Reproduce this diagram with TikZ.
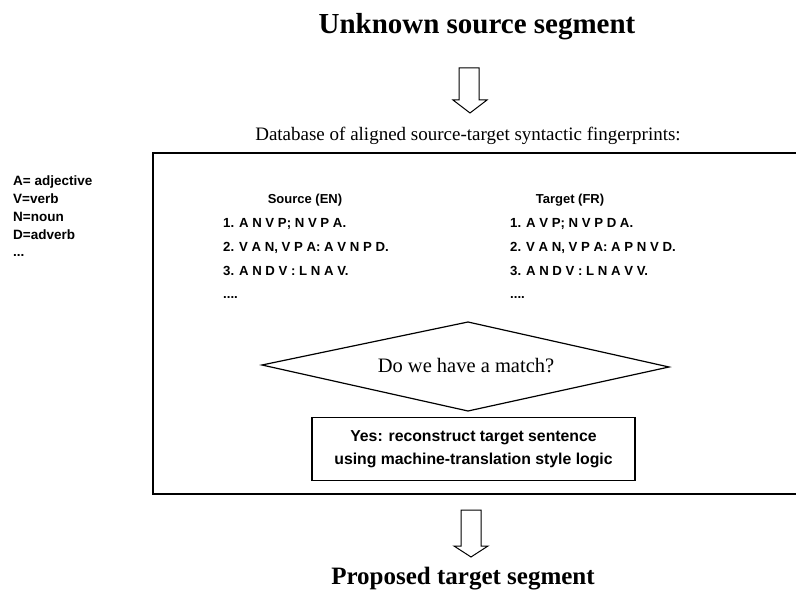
\documentclass[tikz,border=0pt]{standalone}
\usepackage{fontspec}
\setmainfont{Liberation Serif}
\setsansfont{Liberation Sans}
\begin{document}
\begin{tikzpicture}[x=1pt,y=-1pt,
  title/.style={font=\rmfamily\bfseries\fontsize{29}{32}\selectfont, inner sep=0pt},
  title2/.style={font=\rmfamily\bfseries\fontsize{25}{28}\selectfont, inner sep=0pt},
  dbtext/.style={font=\rmfamily\fontsize{19}{21}\selectfont, inner sep=0pt},
  legend/.style={font=\sffamily\bfseries\fontsize{13.5}{15}\selectfont, anchor=base west, inner sep=0pt},
  head/.style={font=\sffamily\bfseries\fontsize{13}{15}\selectfont, inner sep=0pt},
  item/.style={font=\sffamily\bfseries\fontsize{13.2}{16}\selectfont, anchor=base west, inner sep=0pt},
  blockarrow/.style={draw=black, line width=1pt, fill=white, line join=miter},
  frame/.style={draw=black, line width=1.6pt},
  yesbox/.style={draw=black, line width=1.2pt, minimum width=323pt, minimum height=63pt, align=center,
     font=\sffamily\bfseries\fontsize{15.8}{23}\selectfont, inner sep=0pt},
  question/.style={font=\rmfamily\fontsize{20.5}{22}\selectfont, inner sep=0pt}
]
\useasboundingbox (0,0) rectangle (796,594);

% titles
\node[title, anchor=base] (unknown) at (477,34) {Unknown source segment};
\node[title2, anchor=base] (proposed) at (463,584) {Proposed target segment};

% block arrows
\draw[blockarrow] (459,68) -- (479,68) -- (479,100) -- (487,100) -- (470,113) -- (453,100) -- (459,100) -- cycle;
\draw[blockarrow] (461,510) -- (481,510) -- (481,546) -- (488,546) -- (471,557) -- (454,546) -- (461,546) -- cycle;

% database caption
\node[dbtext, anchor=base] (db) at (468,140) {Database of aligned source-target syntactic fingerprints:};

% main frame (open on the right)
\draw[frame] (796,153) -- (153,153) -- (153,494) -- (796,494);

% legend
\node[legend] (la) at (13,185) {A= adjective};
\node[legend] (lv) at (13,203) {V=verb};
\node[legend] (ln) at (13,221) {N=noun};
\node[legend] (ld) at (13,239) {D=adverb};
\node[legend] (le) at (13,256) {...};

% source column
\node[head] (src) at (305,200) {Source (EN)};
\node[item] (s1) at (223,227) {1. A N V P; N V P A.};
\node[item] (s2) at (223,251) {2. V A N, V P A: A V N P D.};
\node[item] (s3) at (223,275) {3. A N D V : L N A V.};
\node[item] (s4) at (223,298) {....};

% target column
\node[head] (tgt) at (570,200) {Target (FR)};
\node[item] (t1) at (510,227) {1. A V P; N V P D A.};
\node[item] (t2) at (510,251) {2. V A N, V P A: A P N V D.};
\node[item] (t3) at (510,275) {3. A N D V : L N A V V.};
\node[item] (t4) at (510,298) {....};

% decision diamond
\draw[line width=1.2pt] (262,365) -- (468,322) -- (669,367) -- (468,411) -- cycle;
\node[question] (match) at (466,366) {Do we have a match?};

% yes box
\node[yesbox] (yes) at (473.5,449) {Yes: reconstruct target sentence\\using machine-translation style logic};
\end{tikzpicture}
\end{document}
